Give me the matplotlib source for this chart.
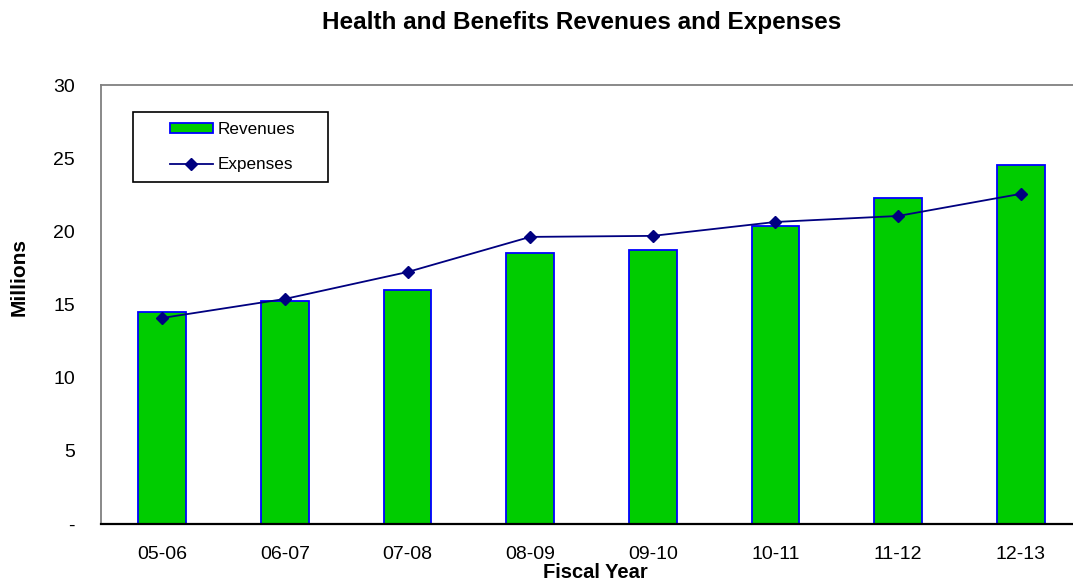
import matplotlib
matplotlib.use("Agg")
import matplotlib.pyplot as plt
from matplotlib.patches import Rectangle
import numpy as np

plt.rcParams['font.family'] = ['Liberation Sans', 'DejaVu Sans']

categories = ["05-06", "06-07", "07-08", "08-09", "09-10", "10-11", "11-12", "12-13"]
revenues = [14.49, 15.24, 16.0, 18.52, 18.73, 20.37, 22.28, 24.54]
expenses = [14.08, 15.38, 17.22, 19.62, 19.69, 20.64, 21.05, 22.56]
yticks = [0, 5, 10, 15, 20, 25, 30]
yticklabels = ["-", "5", "10", "15", "20", "25", "30"]

W, H = 1073, 587
fig = plt.figure(figsize=(W / 100, H / 100), dpi=100)
left, right, top, bottom = 101, 1082, 85, 524
ax = fig.add_axes([left / W, 1 - bottom / H, (right - left) / W, (bottom - top) / H])

x = np.arange(len(categories))
bars = ax.bar(x, revenues, width=0.39, color="#00CC00", edgecolor="#0000FF", linewidth=1.3,
              label="Revenues", zorder=2)
line, = ax.plot(x, expenses, color="#000080", marker="D", markersize=6.5, linewidth=1.3,
                label="Expenses", zorder=3)

ax.set_xlim(-0.5, len(categories) - 0.5)
ax.set_ylim(0, 30)
ax.set_yticks(yticks)
ax.set_yticklabels(yticklabels, fontsize=14)
ax.set_xticks(x)
ax.set_xticklabels(categories, fontsize=14)
ax.tick_params(axis="both", length=0)
ax.tick_params(axis="y", pad=18.7)
ax.tick_params(axis="x", pad=15.5)

for s in ["left", "top", "right"]:
    ax.spines[s].set_color("#808080")
    ax.spines[s].set_linewidth(1.3)
ax.spines["bottom"].set_color("black")
ax.spines["bottom"].set_linewidth(1.6)

fig.text(582 / W, 1 - 28.5 / H, "Health and Benefits Revenues and Expenses",
         ha="center", va="baseline", fontsize=17.5, fontweight="bold")
fig.text(19 / W, 1 - 277 / H, "Millions", rotation=90, ha="center", va="center",
         fontsize=15, fontweight="bold")
fig.text(595 / W, 1 - 577.5 / H, "Fiscal Year", ha="center", va="baseline",
         fontsize=14.5, fontweight="bold")

# legend box
box = Rectangle((133 / W, 1 - 182 / H), (328 - 133) / W, (182 - 112) / H,
                transform=fig.transFigure, facecolor="white",
                edgecolor="black", linewidth=1.2, zorder=4, clip_on=False)
ax.add_artist(box)
leg = ax.legend([bars, line], ["Revenues", "Expenses"], loc="upper left",
                bbox_to_anchor=(170 / W, 1 - 122 / H), bbox_transform=fig.transFigure,
                frameon=False, fontsize=12.3, handlelength=2.5, handleheight=0.45,
                handletextpad=0.3, labelspacing=1.18, borderpad=0, borderaxespad=0)
leg.set_zorder(5)

fig.savefig("out.png", dpi=100)
